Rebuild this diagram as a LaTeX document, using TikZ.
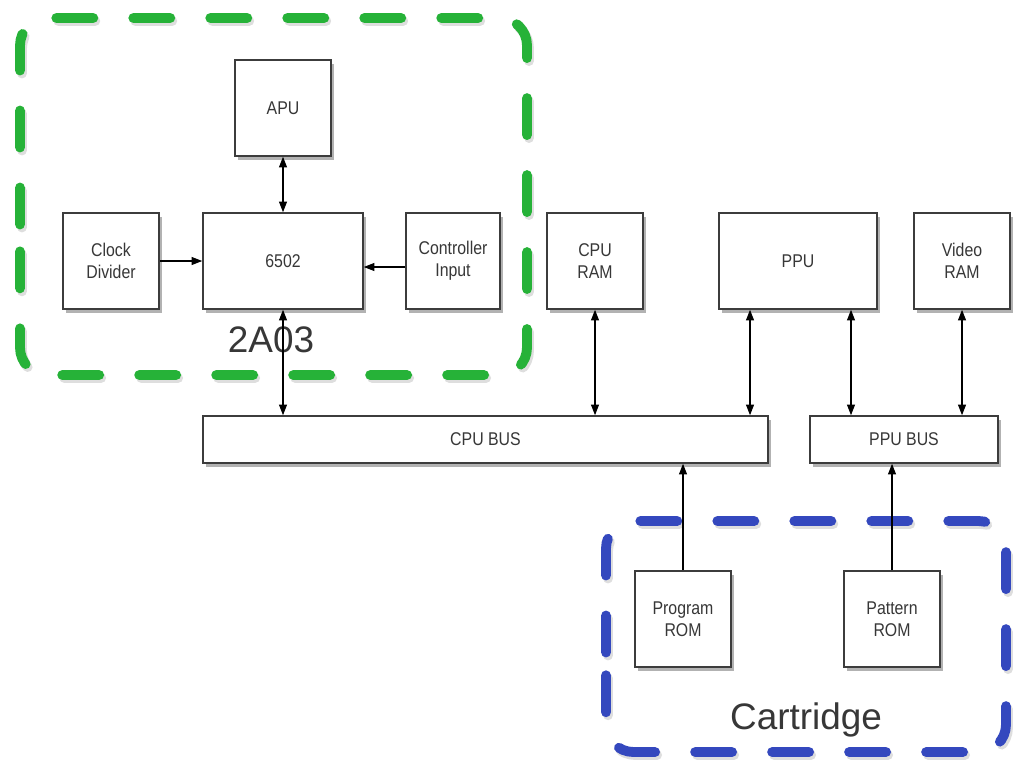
\documentclass[tikz,border=0pt]{standalone}
\usepackage{fontspec}
\setmainfont{Liberation Sans}
\newfontfamily\narrowfont[FakeStretch=0.86]{Liberation Sans}
\usetikzlibrary{arrows.meta,shadows}
\definecolor{grn}{RGB}{38,178,56}
\definecolor{blu}{RGB}{52,72,190}
\definecolor{boxline}{RGB}{60,60,60}
\definecolor{txt}{RGB}{55,55,55}
\tikzset{
  blk/.style={draw=boxline, line width=0.9pt, fill=white, inner sep=0pt, align=center,
    font=\narrowfont\fontsize{10.5}{12.5}\selectfont, text=txt,
    drop shadow={shadow xshift=1.5pt, shadow yshift=-2.5pt, opacity=0.3, fill=black}},
  sq/.style={blk, minimum width=1.92cm, minimum height=1.92cm},
  arr/.style={line width=0.6pt, -{Triangle[length=6pt,width=4.5pt]}},
  darr/.style={line width=0.6pt, {Triangle[length=6pt,width=4.5pt]}-{Triangle[length=6pt,width=4.5pt]}},
  grp/.style={line width=5.6pt, line cap=round, dash pattern=on 0.74cm off 0.8cm, rounded corners=0.55cm},
  grpshadow/.style={grp, draw=black, opacity=0.13},
  lbl/.style={font=\fontsize{21}{24}\selectfont, text=txt}
}
\begin{document}
\begin{tikzpicture}[x=0.02cm,y=-0.02cm]
\useasboundingbox[fill=white] (0,0) rectangle (1016,767);

% group frames
\draw[grpshadow, shift={(2,3)}] (20,252) -- (20,18) -- (527,18) -- (527,375) -- (20,375) -- cycle;
\draw[grp, draw=grn] (20,252) -- (20,18) -- (527,18) -- (527,375) -- (20,375) -- cycle;
\draw[grpshadow, shift={(2,3)}] (606,680) -- (606,521) -- (1006,521) -- (1006,752) -- (606,752) -- cycle;
\draw[grp, draw=blu] (606,680) -- (606,521) -- (1006,521) -- (1006,752) -- (606,752) -- cycle;

% blocks
\node[sq] (apu) at (283,108) {APU};
\node[sq, minimum width=3.2cm] (cpu) at (283,261) {6502};
\node[sq] (clk) at (111,261) {Clock\\Divider};
\node[sq, minimum width=1.88cm] (ctl) at (453,261) {Controller\\Input};
\node[sq] (cram) at (595,261) {CPU\\RAM};
\node[sq, minimum width=3.16cm] (ppu) at (798,261) {PPU};
\node[sq] (vram) at (962,261) {Video\\RAM};
\node[blk, minimum width=11.3cm, minimum height=0.94cm] (cbus) at (485.5,439.5) {CPU BUS};
\node[blk, minimum width=3.76cm, minimum height=0.94cm] (pbus) at (904,439.5) {PPU BUS};
\node[sq] (prom) at (683,619) {Program\\ROM};
\node[sq] (pat) at (892,619) {Pattern\\ROM};

% labels
\node[lbl] (l2a03) at (271,340) {2A03};
\node[lbl] (lcart) at (806,720) {Cartridge};

% connectors
\draw[darr] (apu.south) -- (cpu.north);
\draw[arr] (clk.east) -- (cpu.west);
\draw[arr] ([yshift=-0.12cm]ctl.west) -- ([yshift=-0.12cm]ctl.west -| cpu.east);
\draw[darr] (cpu.south) -- (cpu.south |- cbus.north);
\draw[darr] (cram.south) -- (cram.south |- cbus.north);
\draw[darr] ([xshift=-0.96cm]ppu.south) -- ([xshift=-0.96cm]ppu.south |- cbus.north);
\draw[darr] ([xshift=1.06cm]ppu.south) -- ([xshift=1.06cm]ppu.south |- pbus.north);
\draw[darr] (vram.south) -- (vram.south |- pbus.north);
\draw[arr] (prom.north) -- (prom.north |- cbus.south);
\draw[arr] (pat.north) -- (pat.north |- pbus.south);
\end{tikzpicture}
\end{document}
